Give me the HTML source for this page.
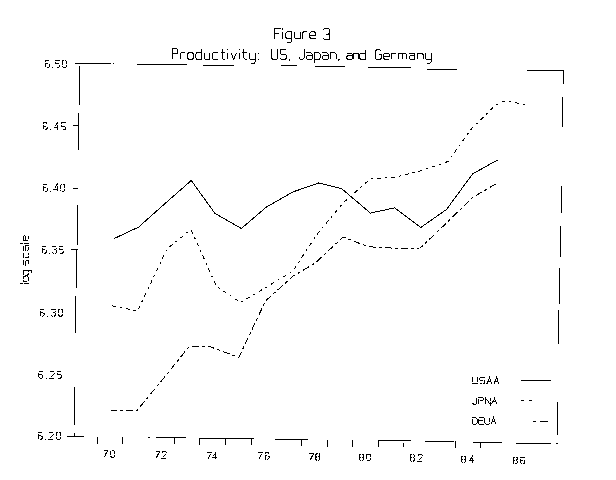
<!DOCTYPE html>
<html><head><meta charset="utf-8"><style>
html,body{margin:0;padding:0;background:#fff;width:616px;height:480px;overflow:hidden}
svg{display:block}
text{font-family:"Liberation Sans",sans-serif;fill:#000}
</style></head><body>
<svg width="616" height="480" viewBox="0 0 616 480">
<rect width="616" height="480" fill="#fff"/>
<g stroke="#000" stroke-width="1" shape-rendering="crispEdges" fill="none">
<line x1="75" y1="63.5" x2="111" y2="63.5"/>
<line x1="112.5" y1="63.5" x2="114" y2="63.5"/>
<line x1="79.5" y1="66" x2="79.5" y2="104.5"/>
<line x1="78.5" y1="113" x2="78.5" y2="150"/>
<line x1="73" y1="125.5" x2="79" y2="125.5"/>
<line x1="72.5" y1="188.5" x2="78" y2="188.5"/>
<line x1="77.5" y1="205" x2="77.5" y2="245"/>
<line x1="70.8" y1="249.5" x2="77.5" y2="249.5"/>
<line x1="76.5" y1="250" x2="76.5" y2="287.5"/>
<line x1="75.5" y1="296" x2="75.5" y2="332.5"/>
<line x1="74.5" y1="387" x2="74.5" y2="424.7"/>
<line x1="67" y1="436.5" x2="84" y2="436.5"/>
<line x1="74.5" y1="433" x2="74.5" y2="436.5"/>
<line x1="137" y1="64.5" x2="186.6" y2="64.5"/>
<line x1="202.5" y1="65.5" x2="233.5" y2="65.5"/>
<line x1="280.5" y1="65.5" x2="297" y2="65.5"/>
<line x1="315" y1="66.5" x2="345" y2="66.5"/>
<line x1="367.7" y1="67.5" x2="410.9" y2="67.5"/>
<line x1="427" y1="69.5" x2="457" y2="69.5"/>
<line x1="527" y1="70.5" x2="563.75" y2="70.5"/>
<line x1="563.5" y1="70.5" x2="563.5" y2="83.75"/>
<line x1="562.5" y1="97" x2="562.5" y2="126.75"/>
<line x1="561.5" y1="185.75" x2="561.5" y2="213"/>
<line x1="560.5" y1="226" x2="560.5" y2="257"/>
<line x1="559.5" y1="268" x2="559.5" y2="303.75"/>
<line x1="558.5" y1="309.5" x2="558.5" y2="343.75"/>
<line x1="557.5" y1="401.6" x2="557.5" y2="434.7"/>
<line x1="97.5" y1="436.5" x2="97.5" y2="444"/>
<line x1="122.5" y1="436.5" x2="122.5" y2="444"/>
<line x1="148" y1="437.5" x2="149.5" y2="437.5"/>
<line x1="556.3" y1="443.5" x2="557.5" y2="443.5"/>
<line x1="156" y1="437.5" x2="186" y2="437.5"/>
<line x1="174.5" y1="437.5" x2="174.5" y2="444"/>
<line x1="199" y1="438.5" x2="254" y2="438.5"/>
<line x1="199.5" y1="438.5" x2="199.5" y2="444.5"/>
<line x1="225.5" y1="438.5" x2="225.5" y2="444.5"/>
<line x1="251.5" y1="438.5" x2="251.5" y2="444.5"/>
<line x1="275" y1="439.5" x2="308" y2="439.5"/>
<line x1="301.5" y1="439" x2="301.5" y2="446"/>
<line x1="327.5" y1="440" x2="327.5" y2="447"/>
<line x1="352.5" y1="440" x2="352.5" y2="447"/>
<line x1="378" y1="440.5" x2="411" y2="440.5"/>
<line x1="378.5" y1="440.5" x2="378.5" y2="447"/>
<line x1="403.5" y1="443" x2="403.5" y2="447"/>
<line x1="425.2" y1="441.5" x2="454.4" y2="441.5"/>
<line x1="455.5" y1="441" x2="455.5" y2="448"/>
<line x1="472.7" y1="442.5" x2="501.9" y2="442.5"/>
<line x1="480.5" y1="443" x2="480.5" y2="448"/>
<line x1="516.1" y1="443.5" x2="551.2" y2="443.5"/>
<line x1="520.7" y1="380.5" x2="551" y2="380.5"/>
<line x1="520.7" y1="400.5" x2="524" y2="400.5"/>
<line x1="528.7" y1="400.5" x2="532.3" y2="400.5"/>
<line x1="533.2" y1="421.5" x2="536" y2="421.5"/>
<line x1="539.8" y1="421.5" x2="548" y2="421.5"/>
</g>
<g stroke="#000" stroke-width="1" fill="none" shape-rendering="crispEdges">
<path d="M113.75,238.75 L138.75,227 L164.5,204 L191.25,180.5 L215,213.5 L241.25,228.5 L266.5,207 L292.75,192 L318.5,183 L341.5,188.5 L370.4,213.1 L394.7,207.8 L420.75,227.5 L446.5,209.5 L472.5,174 L497.5,160"/>
<path d="M112,305.75 L137.5,311 L167,249 L191,229.5 L216.5,286.5 L240.5,302.5 L265,288 L292.5,271.5 L318,233 L343,203 L370.4,178.8 L394,177.5 L420,171 L448,161.5 L471.5,128.75 L495,105.5 L503,101.5 L511,102 L526,104.5" stroke-dasharray="4,4,2,4"/>
<path d="M110,410 L137,410.5 L163,379 L188.75,347 L208.75,346.25 L238.75,357.5 L265.5,301 L292.5,276.5 L315,263.2 L343.2,237 L368,246.7 L394,248.2 L420.25,248 L446.5,223 L472.5,197.5 L497.5,183" stroke-dasharray="7,3,3,3"/>
</g>
<g>
<path d="M274.6,38.5 L274.6,28 L280.6,28 M274.6,33.25 L279.4,33.25 M282.94,38.5 L282.94,31.94 M282.94,29.58 L282.94,28.26 M291.88,31.94 L287.08,31.94 L285.88,33.25 L285.88,37.19 L287.08,38.5 L291.88,38.5 M291.88,31.94 L291.88,41.12 L290.68,42.44 L287.08,42.44 M294.22,31.94 L294.22,37.19 L295.42,38.5 L300.22,38.5 M300.22,31.94 L300.22,38.5 M302.56,38.5 L302.56,31.94 M302.56,33.25 L303.76,31.94 L307.36,31.94 M309.7,35.22 L315.7,35.22 L315.7,33.25 L314.5,31.94 L310.9,31.94 L309.7,33.25 L309.7,37.19 L310.9,38.5 L315.7,38.5 M323.4,29.91 L324.7,28.5 L328.6,28.5 L329.9,29.91 L329.9,32.74 L328.6,34.15 L326,34.15 M328.6,34.15 L329.9,35.56 L329.9,38.39 L328.6,39.8 L324.7,39.8 L323.4,38.39 M172.1,59.4 L172.1,48.5 L176.7,48.5 L177.85,49.86 L177.85,52.59 L176.7,53.95 L172.1,53.95 M180.38,59.4 L180.38,52.59 M180.38,53.95 L181.53,52.59 L184.98,52.59 M188.66,59.4 L192.11,59.4 L193.26,58.04 L193.26,53.95 L192.11,52.59 L188.66,52.59 L187.51,53.95 L187.51,58.04 L188.66,59.4 M201.54,48.5 L201.54,59.4 L196.94,59.4 L195.79,58.04 L195.79,53.95 L196.94,52.59 L201.54,52.59 M204.07,52.59 L204.07,58.04 L205.22,59.4 L209.82,59.4 M209.82,52.59 L209.82,59.4 M218.1,52.59 L213.5,52.59 L212.35,53.95 L212.35,58.04 L213.5,59.4 L218.1,59.4 M222.35,48.5 L222.35,58.04 L223.5,59.4 L225.22,59.4 M220.62,52.59 L225.22,52.59 M227.75,59.4 L227.75,52.59 M227.75,50.13 L227.75,48.77 M230.86,52.59 L233.73,59.4 L236.61,52.59 M239.14,59.4 L239.14,52.59 M239.14,50.13 L239.14,48.77 M243.97,48.5 L243.97,58.04 L245.12,59.4 L246.84,59.4 M242.24,52.59 L246.84,52.59 M249.37,52.59 L249.37,58.04 L250.52,59.4 L255.12,59.4 M255.12,52.59 L255.12,62.12 L253.97,63.49 L250.52,63.49 M257.65,59.4 L258.8,59.4 M257.65,53.95 L258.8,53.95 M271.7,49 L271.7,58.1 L272.9,59.4 L276.5,59.4 L277.7,58.1 L277.7,49 M286.25,50.3 L285.05,49 L281.45,49 L280.25,50.3 L280.25,52.9 L281.45,54.2 L285.05,54.2 L286.25,55.5 L286.25,58.1 L285.05,59.4 L281.45,59.4 L280.25,58.1 M290,58.75 L288.8,61.35 M304.1,49 L304.1,58.1 L302.9,59.4 L300.5,59.4 L299.3,58.1 L299.3,56.8 M306.12,52.9 L310.92,52.9 L312.12,54.2 L312.12,59.4 M312.12,55.5 L307.32,55.5 L306.12,56.8 L306.12,58.1 L307.32,59.4 L312.12,59.4 M314.14,63.3 L314.14,52.9 L318.94,52.9 L320.14,54.2 L320.14,58.1 L318.94,59.4 L314.14,59.4 M322.16,52.9 L326.96,52.9 L328.16,54.2 L328.16,59.4 M328.16,55.5 L323.36,55.5 L322.16,56.8 L322.16,58.1 L323.36,59.4 L328.16,59.4 M330.18,59.4 L330.18,52.9 L334.98,52.9 L336.18,54.2 L336.18,59.4 M339.4,58.75 L338.2,61.35 M346.7,53.21 L351.3,53.21 L352.45,54.45 L352.45,59.4 M352.45,55.69 L347.85,55.69 L346.7,56.92 L346.7,58.16 L347.85,59.4 L352.45,59.4 M353.23,59.4 L353.23,53.21 L357.83,53.21 L358.98,54.45 L358.98,59.4 M365.5,49.5 L365.5,59.4 L360.9,59.4 L359.75,58.16 L359.75,54.45 L360.9,53.21 L365.5,53.21 M381.15,51 L380,49.8 L376.55,49.8 L375.4,51 L375.4,58.2 L376.55,59.4 L380,59.4 L381.15,58.2 L381.15,54.6 L378.85,54.6 M383.55,56.4 L389.3,56.4 L389.3,54.6 L388.15,53.4 L384.7,53.4 L383.55,54.6 L383.55,58.2 L384.7,59.4 L389.3,59.4 M391.7,59.4 L391.7,53.4 M391.7,54.6 L392.85,53.4 L396.3,53.4 M398.7,59.4 L398.7,53.4 L405.6,53.4 L406.75,54.6 L406.75,59.4 M402.72,53.4 L402.72,59.4 M409.15,53.4 L413.75,53.4 L414.9,54.6 L414.9,59.4 M414.9,55.8 L410.3,55.8 L409.15,57 L409.15,58.2 L410.3,59.4 L414.9,59.4 M417.3,59.4 L417.3,53.4 L421.9,53.4 L423.05,54.6 L423.05,59.4 M425.45,53.4 L425.45,58.2 L426.6,59.4 L431.2,59.4 M431.2,53.4 L431.2,61.8 L430.05,63 L426.6,63" stroke="#000" stroke-width="1" fill="none" shape-rendering="crispEdges" />
<path d="M49.4,61.28 L48.6,60.4 L46.2,60.4 L45.4,61.28 L45.4,66.53 L46.2,67.4 L48.6,67.4 L49.4,66.53 L49.4,64.78 L48.6,63.9 L45.4,63.9 M52.1,67.4 L52.9,67.4 M59.6,60.4 L55.6,60.4 L55.6,63.9 L58.8,63.9 L59.6,64.78 L59.6,66.53 L58.8,67.4 L55.6,67.4 M63.1,67.4 L65.5,67.4 L66.3,66.53 L66.3,61.28 L65.5,60.4 L63.1,60.4 L62.3,61.28 L62.3,66.53 L63.1,67.4 M47,123.38 L46.2,122.5 L43.8,122.5 L43,123.38 L43,128.62 L43.8,129.5 L46.2,129.5 L47,128.62 L47,126.88 L46.2,126 L43,126 M50.32,129.5 L51.12,129.5 M57.63,129.5 L57.63,122.5 L54.43,127.75 L58.43,127.75 M65.75,122.5 L61.75,122.5 L61.75,126 L64.95,126 L65.75,126.88 L65.75,128.62 L64.95,129.5 L61.75,129.5 M47.4,185.18 L46.6,184.3 L44.2,184.3 L43.4,185.18 L43.4,190.43 L44.2,191.3 L46.6,191.3 L47.4,190.43 L47.4,188.68 L46.6,187.8 L43.4,187.8 M50.23,191.3 L51.03,191.3 M57.07,191.3 L57.07,184.3 L53.87,189.55 L57.87,189.55 M61.5,191.3 L63.9,191.3 L64.7,190.43 L64.7,185.18 L63.9,184.3 L61.5,184.3 L60.7,185.18 L60.7,190.43 L61.5,191.3 M46.2,247.12 L45.4,246.25 L43,246.25 L42.2,247.12 L42.2,252.38 L43,253.25 L45.4,253.25 L46.2,252.38 L46.2,250.62 L45.4,249.75 L42.2,249.75 M48.87,253.25 L49.67,253.25 M52.33,247.12 L53.13,246.25 L55.53,246.25 L56.33,247.12 L56.33,248.88 L55.53,249.75 L53.93,249.75 M55.53,249.75 L56.33,250.62 L56.33,252.38 L55.53,253.25 L53.13,253.25 L52.33,252.38 M63,246.25 L59,246.25 L59,249.75 L62.2,249.75 L63,250.62 L63,252.38 L62.2,253.25 L59,253.25 M44,309.88 L43.2,309 L40.8,309 L40,309.88 L40,315.12 L40.8,316 L43.2,316 L44,315.12 L44,313.38 L43.2,312.5 L40,312.5 M47.23,316 L48.03,316 M51.27,309.88 L52.07,309 L54.47,309 L55.27,309.88 L55.27,311.62 L54.47,312.5 L52.87,312.5 M54.47,312.5 L55.27,313.38 L55.27,315.12 L54.47,316 L52.07,316 L51.27,315.12 M59.3,316 L61.7,316 L62.5,315.12 L62.5,309.88 L61.7,309 L59.3,309 L58.5,309.88 L58.5,315.12 L59.3,316 M42.9,371.88 L42.1,371 L39.7,371 L38.9,371.88 L38.9,377.12 L39.7,378 L42.1,378 L42.9,377.12 L42.9,375.38 L42.1,374.5 L38.9,374.5 M46.13,378 L46.93,378 M50.17,371.88 L50.97,371 L53.37,371 L54.17,371.88 L54.17,373.62 L50.17,378 L54.17,378 M61.4,371 L57.4,371 L57.4,374.5 L60.6,374.5 L61.4,375.38 L61.4,377.12 L60.6,378 L57.4,378 M42,433.07 L41.2,432.2 L38.8,432.2 L38,433.07 L38,438.32 L38.8,439.2 L41.2,439.2 L42,438.32 L42,436.57 L41.2,435.7 L38,435.7 M45.23,439.2 L46.03,439.2 M49.27,433.07 L50.07,432.2 L52.47,432.2 L53.27,433.07 L53.27,434.82 L49.27,439.2 L53.27,439.2 M57.3,439.2 L59.7,439.2 L60.5,438.32 L60.5,433.07 L59.7,432.2 L57.3,432.2 L56.5,433.07 L56.5,438.32 L57.3,439.2 M103.5,450.6 L107.5,450.6 L104.3,457.1 M111.4,457.1 L113.8,457.1 L114.6,456.29 L114.6,451.41 L113.8,450.6 L111.4,450.6 L110.6,451.41 L110.6,456.29 L111.4,457.1 M155.5,451.5 L159.5,451.5 L156.3,458 M162.2,452.31 L163,451.5 L165.4,451.5 L166.2,452.31 L166.2,453.94 L162.2,458 L166.2,458 M207.3,452.6 L211.3,452.6 L208.1,459.1 M215.8,459.1 L215.8,452.6 L212.6,457.48 L216.6,457.48 M258.3,452.6 L262.3,452.6 L259.1,459.1 M269,453.41 L268.2,452.6 L265.8,452.6 L265,453.41 L265,458.29 L265.8,459.1 L268.2,459.1 L269,458.29 L269,456.66 L268.2,455.85 L265,455.85 M309.4,453.7 L313.4,453.7 L310.2,460.2 M316.6,456.95 L315.8,456.14 L315.8,454.51 L316.6,453.7 L319,453.7 L319.8,454.51 L319.8,456.14 L319,456.95 L316.6,456.95 L315.8,457.76 L315.8,459.39 L316.6,460.2 L319,460.2 L319.8,459.39 L319.8,457.76 L319,456.95 M360.3,457.25 L359.5,456.44 L359.5,454.81 L360.3,454 L362.7,454 L363.5,454.81 L363.5,456.44 L362.7,457.25 L360.3,457.25 L359.5,458.06 L359.5,459.69 L360.3,460.5 L362.7,460.5 L363.5,459.69 L363.5,458.06 L362.7,457.25 M367.3,460.5 L369.7,460.5 L370.5,459.69 L370.5,454.81 L369.7,454 L367.3,454 L366.5,454.81 L366.5,459.69 L367.3,460.5 M411.1,457.75 L410.3,456.94 L410.3,455.31 L411.1,454.5 L413.5,454.5 L414.3,455.31 L414.3,456.94 L413.5,457.75 L411.1,457.75 L410.3,458.56 L410.3,460.19 L411.1,461 L413.5,461 L414.3,460.19 L414.3,458.56 L413.5,457.75 M418.3,455.31 L419.1,454.5 L421.5,454.5 L422.3,455.31 L422.3,456.94 L418.3,461 L422.3,461 M462.3,459.25 L461.5,458.44 L461.5,456.81 L462.3,456 L464.7,456 L465.5,456.81 L465.5,458.44 L464.7,459.25 L462.3,459.25 L461.5,460.06 L461.5,461.69 L462.3,462.5 L464.7,462.5 L465.5,461.69 L465.5,460.06 L464.7,459.25 M472.7,462.5 L472.7,456 L469.5,460.88 L473.5,460.88 M513.9,460.25 L513.1,459.44 L513.1,457.81 L513.9,457 L516.3,457 L517.1,457.81 L517.1,459.44 L516.3,460.25 L513.9,460.25 L513.1,461.06 L513.1,462.69 L513.9,463.5 L516.3,463.5 L517.1,462.69 L517.1,461.06 L516.3,460.25 M524.8,457.81 L524,457 L521.6,457 L520.8,457.81 L520.8,462.69 L521.6,463.5 L524,463.5 L524.8,462.69 L524.8,461.06 L524,460.25 L520.8,460.25 M472.6,377.2 L472.6,382.98 L473.6,383.8 L476.6,383.8 L477.6,382.98 L477.6,377.2 M484.73,378.02 L483.73,377.2 L480.73,377.2 L479.73,378.02 L479.73,379.68 L480.73,380.5 L483.73,380.5 L484.73,381.32 L484.73,382.98 L483.73,383.8 L480.73,383.8 L479.73,382.98 M486.87,383.8 L489.37,377.2 L491.87,383.8 M487.87,381.32 L490.87,381.32 M494,383.8 L496.5,377.2 L499,383.8 M495,381.32 L498,381.32 M476.6,397.5 L476.6,403.36 L475.6,404.2 L473.6,404.2 L472.6,403.36 L472.6,402.52 M478.3,404.2 L478.3,397.5 L482.3,397.5 L483.3,398.34 L483.3,400.01 L482.3,400.85 L478.3,400.85 M485,404.2 L485,397.5 L490,404.2 L490,397.5 M491.7,404.2 L494.2,397.5 L496.7,404.2 M492.7,401.69 L495.7,401.69 M472.6,424 L472.6,417.5 L475.6,417.5 L477.6,419.12 L477.6,422.38 L475.6,424 L472.6,424 M483.77,417.5 L478.77,417.5 L478.77,424 L483.77,424 M478.77,420.75 L482.77,420.75 M484.93,417.5 L484.93,423.19 L485.93,424 L488.93,424 L489.93,423.19 L489.93,417.5 M491.1,424 L493.6,417.5 L496.1,424 M492.1,421.56 L495.1,421.56" stroke="#000" stroke-width="1" fill="none" shape-rendering="crispEdges" stroke-dasharray="5,1"/>
<path d="M0.5,0 L0.5,-8.8 M3.4,0 L6.4,0 L7.4,-1.1 L7.4,-4.4 L6.4,-5.5 L3.4,-5.5 L2.4,-4.4 L2.4,-1.1 L3.4,0 M13.8,-5.5 L9.8,-5.5 L8.8,-4.4 L8.8,-1.1 L9.8,0 L13.8,0 M13.8,-5.5 L13.8,2.2 L12.8,3.3 L9.8,3.3 M23.9,-5.5 L19.9,-5.5 L18.9,-4.4 L18.9,-3.3 L19.9,-2.75 L22.9,-2.75 L23.9,-2.2 L23.9,-1.1 L22.9,0 L18.9,0 M31.12,-5.5 L27.12,-5.5 L26.12,-4.4 L26.12,-1.1 L27.12,0 L31.12,0 M33.35,-5.5 L37.35,-5.5 L38.35,-4.4 L38.35,0 M38.35,-3.3 L34.35,-3.3 L33.35,-2.2 L33.35,-1.1 L34.35,0 L38.35,0 M40.58,0 L40.58,-8.8 M43.3,-2.75 L48.3,-2.75 L48.3,-4.4 L47.3,-5.5 L44.3,-5.5 L43.3,-4.4 L43.3,-1.1 L44.3,0 L48.3,0" stroke="#000" stroke-width="1" fill="none" shape-rendering="crispEdges" stroke-dasharray="5,1" transform="translate(28.5,284) rotate(-90)"/>
</g>
</svg>
</body></html>
